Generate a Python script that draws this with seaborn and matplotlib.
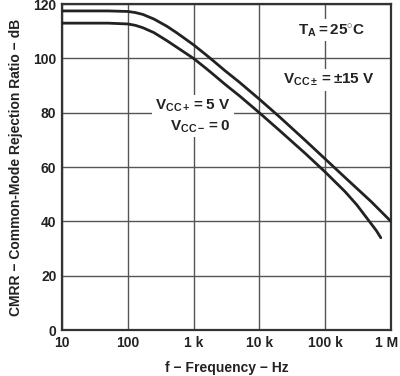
import pandas as pd
import matplotlib.pyplot as plt
import matplotlib.transforms as mtransforms
import seaborn as sns

# Datos (CMRR vs frecuencia)
freq_15v = [10, 50, 100, 130, 170, 250, 390, 550, 700, 1e3, 1.5e3, 2e3, 3e3, 5e3, 1e4, 2e4, 5e4, 1e5, 2e5, 5e5, 1e6]
cmrr_15v = [117.5, 117.5, 117.3, 116.9, 116.2, 114.5, 111.9, 109.5, 107.7, 105.0, 101.6, 99.1, 95.5, 91.2,
            85.0, 78.6, 69.8, 63.0, 56.2, 47.3, 40.0]

freq_5v = [10, 50, 100, 130, 170, 250, 390, 550, 700, 1e3, 1.5e3, 2e3, 3e3, 5e3, 1e4, 2e4, 5e4, 1e5, 2e5, 3e5,
           4.7e5, 6e5, 7e5]
cmrr_5v = [113.0, 113.0, 112.7, 112.2, 111.3, 109.5, 106.6, 104.2, 102.5, 100.0, 96.6, 94.1, 90.5, 86.2,
           80.0, 73.6, 65.0, 58.2, 51.0, 46.2, 40.0, 36.6, 34.0]

xticks = [10, 100, 1e3, 1e4, 1e5, 1e6]
xtick_labels = ['10', '100', '1 k', '10 k', '100 k', '1 M']
yticks = [0, 20, 40, 60, 80, 100, 120]

sns.set_theme(style="white")
plt.rcParams['font.family'] = ['Liberation Sans', 'DejaVu Sans']
plt.rcParams['font.weight'] = 'bold'
plt.rcParams['mathtext.fontset'] = 'custom'
plt.rcParams['mathtext.rm'] = 'Liberation Sans:bold'
plt.rcParams['mathtext.it'] = 'Liberation Sans:bold'
plt.rcParams['mathtext.bf'] = 'Liberation Sans:bold'

df = pd.concat([
    pd.DataFrame({'f': freq_15v, 'cmrr': cmrr_15v, 'serie': '15V'}),
    pd.DataFrame({'f': freq_5v, 'cmrr': cmrr_5v, 'serie': '5V'}),
])

fig = plt.figure(figsize=(4.0, 3.76), dpi=100)
ax = fig.add_axes([0.155, 0.122, 0.8225, 0.867])

for s in ['15V', '5V']:
    d = df[df['serie'] == s]
    sns.lineplot(data=d, x='f', y='cmrr', ax=ax, color='#222222', linewidth=2.0,
                 estimator=None, sort=False, zorder=3)

ax.set_xscale('log')
ax.set_xlim(10, 1e6)
ax.set_ylim(0, 120)
ax.set_xticks(xticks)
ax.set_xticklabels(xtick_labels)
ax.set_yticks(yticks)
ax.minorticks_off()
ax.tick_params(length=0, labelsize=10, colors='#222222', pad=4)
for lab in ax.get_xticklabels() + ax.get_yticklabels():
    lab.set_fontweight('bold')
# el ultimo rotulo "1 M" un poco a la izquierda para que no se corte
last = ax.get_xticklabels()[-1]
last.set_transform(last.get_transform() + mtransforms.ScaledTranslation(-3 / 72, 0, fig.dpi_scale_trans))

ax.grid(True, color='#555555', linewidth=1.0)
for sp in ax.spines.values():
    sp.set_color('#333333')
    sp.set_linewidth(1.6)

ax.set_xlabel('f \u2212 Frequency \u2212 Hz', fontsize=10, fontweight='bold', color='#222222', labelpad=8)
ax.set_ylabel('CMRR \u2212 Common-Mode Rejection Ratio \u2212 dB', fontsize=10, fontweight='bold',
              color='#222222', labelpad=7)

box = dict(facecolor='white', edgecolor='none', pad=2)
ax.text(1.26e5, 110.4, r'$\mathrm{T_A = 25^{\circ}C}$', ha='center', va='center', fontsize=11,
        color='#222222', bbox=box, zorder=4)
ax.text(1.15e5, 92, r'$\mathrm{V_{CC\pm} = \pm15\ V}$', ha='center', va='center', fontsize=11,
        color='#222222', bbox=box, zorder=4)
ax.text(9.8e2, 82.4, r'$\mathrm{V_{CC+} = 5\ V}$', ha='center', va='center', fontsize=11,
        color='#222222', bbox=box, zorder=4)
ax.text(1.26e3, 75.0, r'$\mathrm{V_{CC-} = 0}$', ha='center', va='center', fontsize=11,
        color='#222222', bbox=box, zorder=4)

fig.savefig('out.png', dpi=100)
